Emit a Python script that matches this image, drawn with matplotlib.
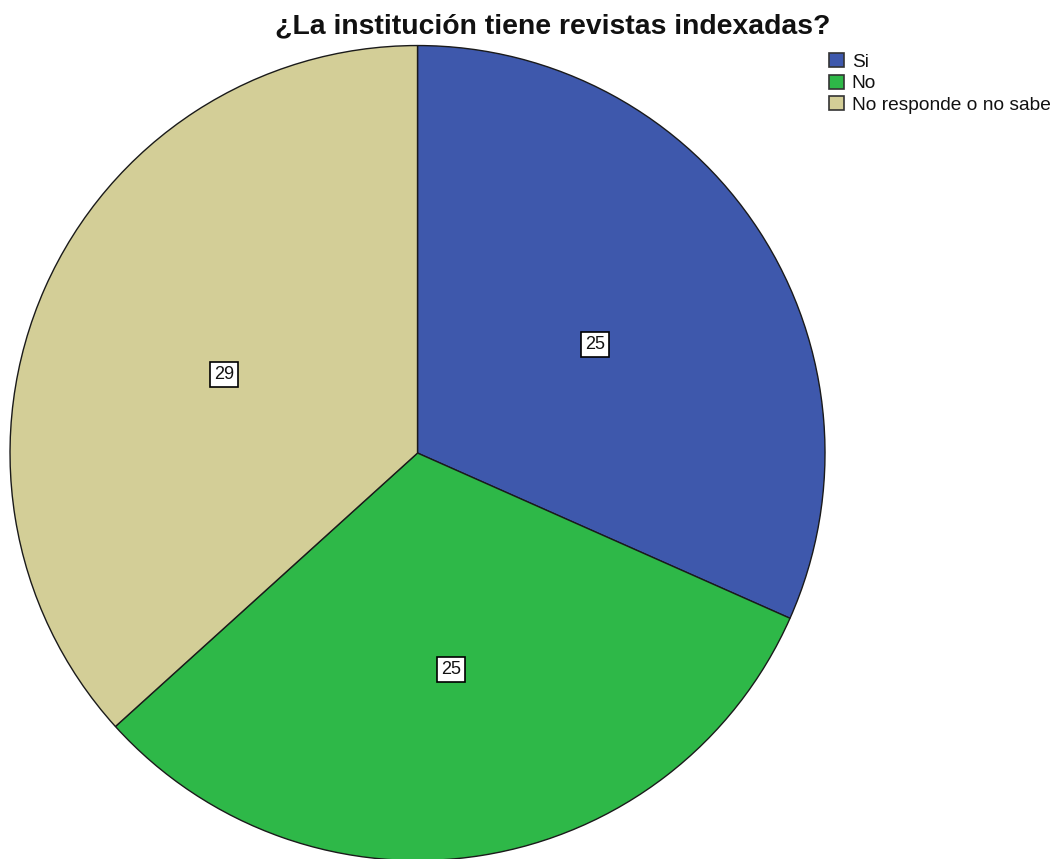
import matplotlib.pyplot as plt
from matplotlib.patches import Patch
from matplotlib.transforms import ScaledTranslation

plt.rcParams['font.family'] = ['Liberation Sans', 'DejaVu Sans']

# datos
categorias = ['Si', 'No', 'No responde o no sabe']
valores = [25, 25, 29]
colores = ['#3E58AC', '#2EB848', '#D3CE97']
titulo = '¿La institución tiene revistas indexadas?'

fig = plt.figure(figsize=(10.55, 8.59), dpi=100)
ax = fig.add_axes([0.0095, -0.0018, 0.7725, 0.9488])

wedges, texts, autotexts = ax.pie(
    valores, colors=colores, startangle=90, counterclock=False,
    radius=1.0, autopct=lambda p: f'{p * sum(valores) / 100:.0f}',
    pctdistance=0.52,
    wedgeprops=dict(edgecolor='#1a1a1a', linewidth=1.0),
    textprops=dict(fontsize=13, color='#111111'))

# las etiquetas de SPSS quedan un poco mas abajo
bajar = ScaledTranslation(0, -7 / 100, fig.dpi_scale_trans)
for t in autotexts:
    t.set_transform(ax.transData + bajar)
    t.set_bbox(dict(boxstyle='square,pad=0.22', facecolor='white',
                    edgecolor='black', linewidth=1.2))

ax.set_xlim(-1, 1)
ax.set_ylim(-1, 1)
ax.set_aspect('equal')

fig.text(0.524, 0.969, titulo, ha='center', va='center',
         fontsize=20.4, fontweight='bold', color='#111111')

handles = [Patch(facecolor=c, edgecolor='#333333', linewidth=1.2) for c in colores]
fig.legend(handles, categorias, loc='upper left', bbox_to_anchor=(0.786, 0.938),
           frameon=False, fontsize=13.8, handlelength=0.75, handleheight=0.75,
           handletextpad=0.42, labelspacing=0.2, borderaxespad=0, borderpad=0,
           labelcolor='#111111')

fig.savefig('out.png', dpi=100)
